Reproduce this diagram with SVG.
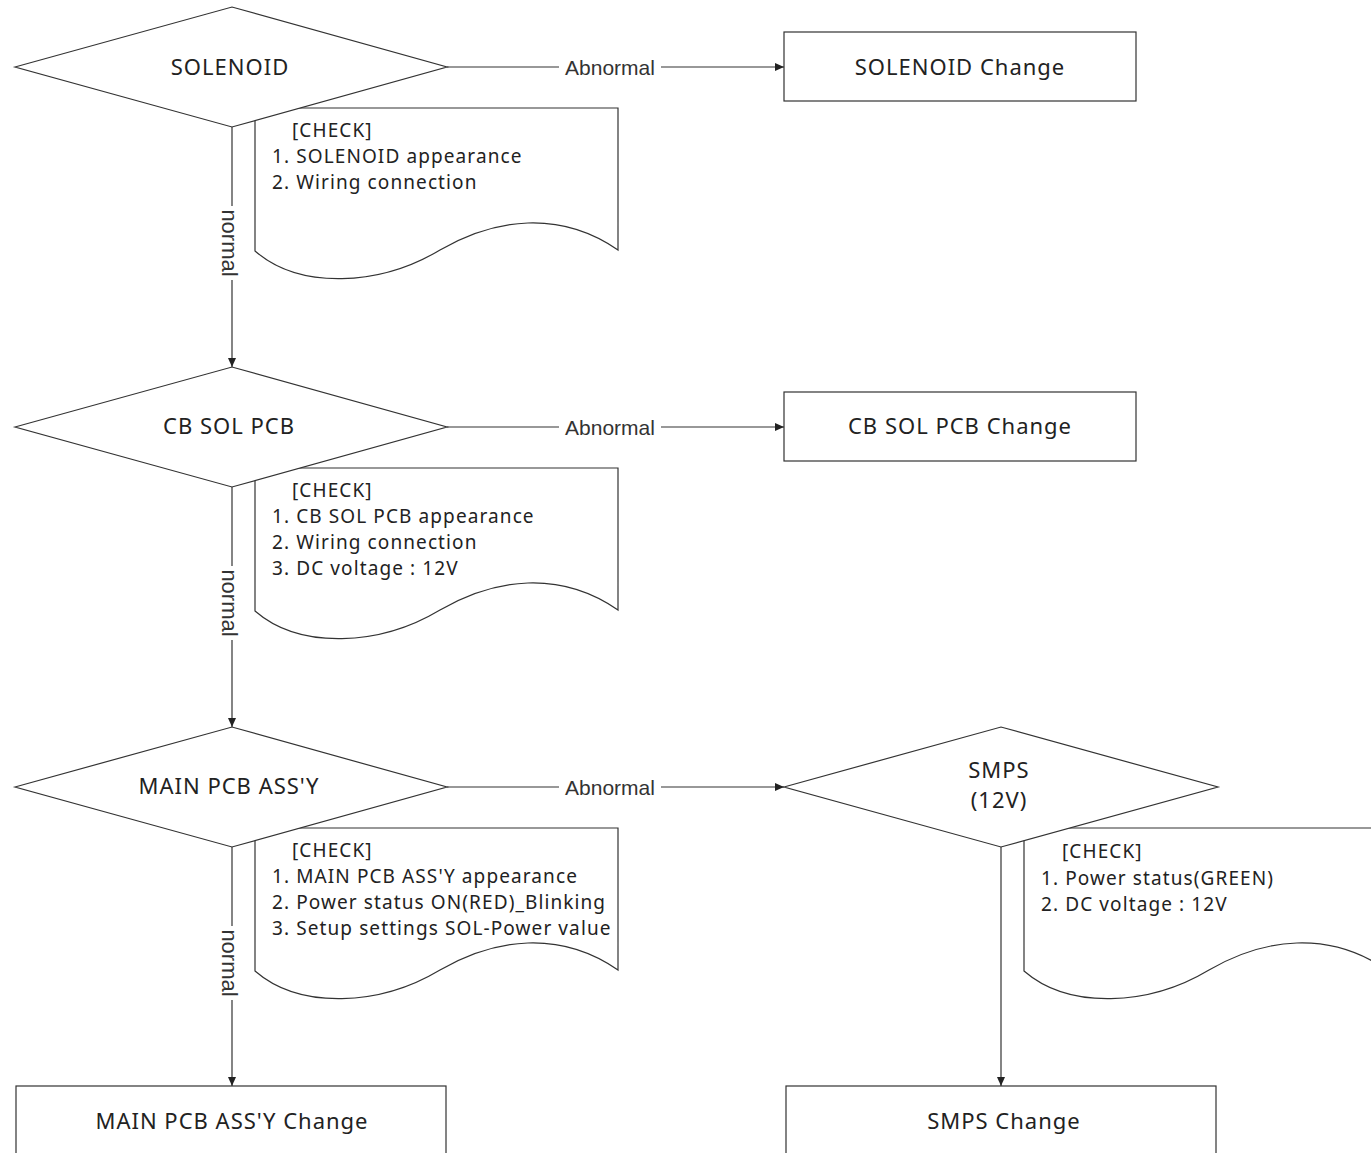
<svg xmlns="http://www.w3.org/2000/svg" width="1371" height="1153" viewBox="0 0 1371 1153">
<style>
.shape{fill:#fff;stroke:#333;stroke-width:1.2}
.line{fill:none;stroke:#333;stroke-width:1.2}
.t{font-family:"Noto Sans","Noto Sans CJK KR",sans-serif;font-size:19px;letter-spacing:1.1px;fill:#222}
.big{font-size:22px;letter-spacing:1px}
.c{text-anchor:middle}
.lbl{font-family:"Liberation Sans",Arial,sans-serif;font-size:21px;fill:#333;text-anchor:middle}
.bg{fill:#fff;stroke:none}
</style>
<defs>
<marker id="ah" markerUnits="userSpaceOnUse" markerWidth="10" markerHeight="10" refX="9" refY="5" orient="auto">
<path d="M0,1 L9,5 L0,9 z" fill="#222"/>
</marker>
<path id="docshape" d="M255,108 H618 V250 C560,210 495,218 440,250 C380,286 300,290 255,251 Z"/>
</defs>

<g id="connectors">
<line class="line" x1="447" y1="67" x2="784" y2="67" marker-end="url(#ah)"/>
<rect class="bg" x="559" y="55" width="102" height="26"/>
<text class="lbl" x="610" y="75">Abnormal</text>
<line class="line" x1="447" y1="427" x2="784" y2="427" marker-end="url(#ah)"/>
<rect class="bg" x="559" y="415" width="102" height="26"/>
<text class="lbl" x="610" y="435">Abnormal</text>
<line class="line" x1="447" y1="787" x2="784" y2="787" marker-end="url(#ah)"/>
<rect class="bg" x="559" y="775" width="102" height="26"/>
<text class="lbl" x="610" y="795">Abnormal</text>

<line class="line" x1="232" y1="127" x2="232" y2="367" marker-end="url(#ah)"/>
<rect class="bg" x="218" y="206" width="26" height="74"/>
<text class="lbl" style="font-size:22px" transform="translate(222,243) rotate(90)">normal</text>
<line class="line" x1="232" y1="487" x2="232" y2="727" marker-end="url(#ah)"/>
<rect class="bg" x="218" y="566" width="26" height="74"/>
<text class="lbl" style="font-size:22px" transform="translate(222,603) rotate(90)">normal</text>
<line class="line" x1="232" y1="847" x2="232" y2="1086" marker-end="url(#ah)"/>
<rect class="bg" x="218" y="926" width="26" height="74"/>
<text class="lbl" style="font-size:22px" transform="translate(222,963) rotate(90)">normal</text>

<line class="line" x1="1001" y1="847" x2="1001" y2="1086" marker-end="url(#ah)"/>
</g>

<g id="note-solenoid">
<use href="#docshape" class="shape"/>
<text class="t" x="292" y="137">[CHECK]</text>
<text class="t" x="272" y="163">1. SOLENOID appearance</text>
<text class="t" x="272" y="189">2. Wiring connection</text>
</g>
<g id="note-cbsol">
<use href="#docshape" class="shape" transform="translate(0,360)"/>
<text class="t" x="292" y="497">[CHECK]</text>
<text class="t" x="272" y="523">1. CB SOL PCB appearance</text>
<text class="t" x="272" y="549">2. Wiring connection</text>
<text class="t" x="272" y="575">3. DC voltage : 12V</text>
</g>
<g id="note-main">
<use href="#docshape" class="shape" transform="translate(0,720)"/>
<text class="t" x="292" y="857">[CHECK]</text>
<text class="t" x="272" y="883">1. MAIN PCB ASS'Y appearance</text>
<text class="t" x="272" y="909">2. Power status ON(RED)_Blinking</text>
<text class="t" x="272" y="935">3. Setup settings SOL-Power value</text>
</g>
<g id="note-smps">
<use href="#docshape" class="shape" transform="translate(769,720)"/>
<text class="t" x="1062" y="858">[CHECK]</text>
<text class="t" x="1041" y="885">1. Power status(GREEN)</text>
<text class="t" x="1041" y="911">2. DC voltage : 12V</text>
</g>

<g id="d-solenoid">
<polygon class="shape" points="15,67 232,7 447,67 232,127"/>
<text class="t big c" x="230" y="75">SOLENOID</text>
</g>
<g id="d-cbsol">
<polygon class="shape" points="15,427 232,367 447,427 232,487"/>
<text class="t big c" x="229" y="434">CB SOL PCB</text>
</g>
<g id="d-main">
<polygon class="shape" points="15,787 232,727 447,787 232,847"/>
<text class="t big c" x="229" y="794">MAIN PCB ASS'Y</text>
</g>
<g id="d-smps">
<polygon class="shape" points="784,787 1001,727 1218,787 1001,847"/>
<text class="t big c" x="999" y="778">SMPS</text>
<text class="t big c" x="999" y="808">(12V)</text>
</g>

<g id="r-solenoid">
<rect class="shape" x="784" y="32" width="352" height="69"/>
<text class="t big c" x="960" y="75">SOLENOID Change</text>
</g>
<g id="r-cbsol">
<rect class="shape" x="784" y="392" width="352" height="69"/>
<text class="t big c" x="960" y="434">CB SOL PCB Change</text>
</g>
<g id="r-main">
<rect class="shape" x="16" y="1086" width="430" height="80"/>
<text class="t big c" x="232" y="1129">MAIN PCB ASS'Y Change</text>
</g>
<g id="r-smps">
<rect class="shape" x="786" y="1086" width="430" height="80"/>
<text class="t big c" x="1004" y="1129">SMPS Change</text>
</g>
</svg>
